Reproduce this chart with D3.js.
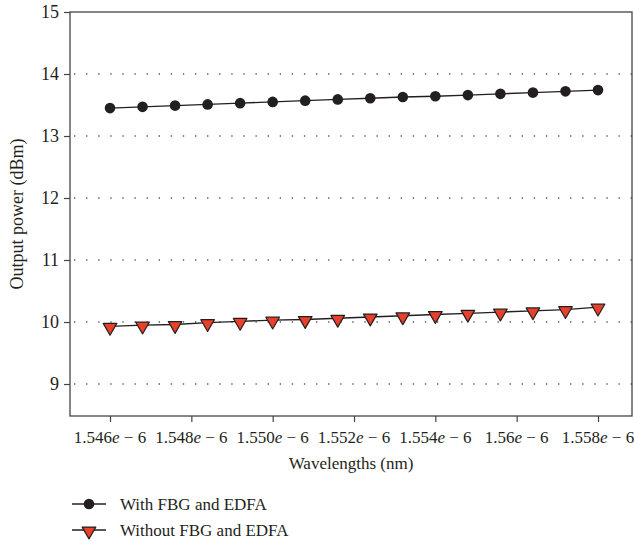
<!DOCTYPE html>
<html>
<head>
<meta charset="utf-8">
<script src="https://cdn.jsdelivr.net/npm/d3@7"></script>
<style>
  body { margin: 0; background: #fff; }
  svg { display: block; font-family: "Liberation Serif", "DejaVu Serif", serif; }
</style>
</head>
<body>
<svg id="chart"></svg>
<script>
const width = 634;
const height = 541;

// wavelengths (x 1e-6)
const wavelengths = [1.5460, 1.5468, 1.5476, 1.5484, 1.5492, 1.5500, 1.5508, 1.5516,
  1.5524, 1.5532, 1.5540, 1.5548, 1.5556, 1.5564, 1.5572, 1.5580];
const withFbg = [13.45, 13.47, 13.49, 13.51, 13.53, 13.55, 13.57, 13.59,
  13.61, 13.63, 13.64, 13.66, 13.68, 13.70, 13.72, 13.74];
const withoutFbg = [9.93, 9.95, 9.96, 9.99, 10.01, 10.03, 10.04, 10.06,
  10.08, 10.10, 10.12, 10.14, 10.16, 10.18, 10.20, 10.24];

const xTicks = [1.546, 1.548, 1.550, 1.552, 1.554, 1.556, 1.558];
const xTickLabels = ["1.546", "1.548", "1.550", "1.552", "1.554", "1.56", "1.558"];
const yTicks = [9, 10, 11, 12, 13, 14, 15];
const seriesNames = ["With FBG and EDFA", "Without FBG and EDFA"];

const margin = { top: 12, right: 2, bottom: 125, left: 70 };
const plotW = width - margin.left - margin.right;
const plotH = height - margin.top - margin.bottom;

const svg = d3.select("#chart").attr("width", width).attr("height", height);

const x = d3.scaleLinear().domain([1.545016, 1.558836]).range([margin.left, margin.left + plotW]);
const y = d3.scaleLinear().domain([8.484, 15]).range([margin.top + plotH, margin.top]);

const ink = "#231f20";
const red = "#e8402a";
const fs = "17px";

// dotted grid
svg.append("g")
  .selectAll("line")
  .data(yTicks.filter((d) => d < 15))
  .enter()
  .append("line")
  .attr("x1", margin.left + 4)
  .attr("x2", margin.left + plotW)
  .attr("y1", (d) => y(d))
  .attr("y2", (d) => y(d))
  .attr("stroke", "#555")
  .attr("stroke-width", 1.3)
  .attr("stroke-dasharray", "1.3,10.8");

// frame
svg.append("rect")
  .attr("x", margin.left)
  .attr("y", margin.top)
  .attr("width", plotW)
  .attr("height", plotH)
  .attr("fill", "none")
  .attr("stroke", "#444")
  .attr("stroke-width", 1.3);

// y axis
const yAxis = svg.append("g")
  .attr("transform", `translate(${margin.left},0)`)
  .call(d3.axisLeft(y).tickValues(yTicks).tickSize(6).tickPadding(5).tickFormat(d3.format("d")));
yAxis.select(".domain").remove();
yAxis.selectAll(".tick line").attr("stroke", "#444").attr("stroke-width", 1.2);
yAxis.selectAll(".tick text")
  .attr("fill", ink)
  .style("font-size", "18px")
  .style("font-family", "Liberation Serif, serif");

// x axis
const xAxis = svg.append("g")
  .attr("transform", `translate(0,${margin.top + plotH})`)
  .call(d3.axisBottom(x).tickValues(xTicks).tickSize(6).tickFormat(() => ""));
xAxis.select(".domain").remove();
xAxis.selectAll(".tick line").attr("stroke", "#444").attr("stroke-width", 1.2);

const xLab = svg.append("g")
  .selectAll("text")
  .data(xTicks)
  .enter()
  .append("text")
  .attr("x", (d) => x(d))
  .attr("y", margin.top + plotH + 27)
  .attr("text-anchor", "middle")
  .attr("fill", ink)
  .style("font-size", fs);
xLab.append("tspan").text((d, i) => xTickLabels[i]);
xLab.append("tspan").attr("font-style", "italic").text("e");
xLab.append("tspan").text(" \u2212 6");

// axis titles
svg.append("text")
  .attr("x", margin.left + plotW / 2)
  .attr("y", margin.top + plotH + 53)
  .attr("text-anchor", "middle")
  .attr("fill", ink)
  .style("font-size", fs)
  .text("Wavelengths (nm)");

svg.append("text")
  .attr("transform", `translate(23,${margin.top + plotH / 2}) rotate(-90)`)
  .attr("text-anchor", "middle")
  .attr("fill", ink)
  .style("font-size", "18px")
  .text("Output power (dBm)");

// lines
const line = (vals) => d3.line().x((d, i) => x(wavelengths[i])).y((d) => y(d))(vals);

svg.append("path").attr("d", line(withFbg)).attr("fill", "none").attr("stroke", ink).attr("stroke-width", 1.4);
svg.append("path").attr("d", line(withoutFbg)).attr("fill", "none").attr("stroke", ink).attr("stroke-width", 1.4);

const tri = d3.symbol().type(d3.symbolTriangle).size(80);

svg.append("g")
  .selectAll("circle")
  .data(withFbg)
  .enter()
  .append("circle")
  .attr("cx", (d, i) => x(wavelengths[i]))
  .attr("cy", (d) => y(d))
  .attr("r", 5.3)
  .attr("fill", ink);

svg.append("g")
  .selectAll("path")
  .data(withoutFbg)
  .enter()
  .append("path")
  .attr("d", tri)
  .attr("transform", (d, i) => `translate(${x(wavelengths[i])},${y(d) + 1}) rotate(180)`)
  .attr("fill", red)
  .attr("stroke", ink)
  .attr("stroke-width", 1.2)
  .attr("stroke-linejoin", "round");

// legend
const legend = svg.append("g")
  .selectAll("g")
  .data(seriesNames)
  .enter()
  .append("g")
  .attr("transform", (d, i) => `translate(72,${504 + i * 26})`);

legend.append("line")
  .attr("x1", 0).attr("x2", 34)
  .attr("stroke", ink).attr("stroke-width", 1.4);

legend.filter((d, i) => i === 0)
  .append("circle").attr("cx", 17).attr("r", 5.3).attr("fill", ink);

legend.filter((d, i) => i === 1)
  .append("path")
  .attr("d", tri)
  .attr("transform", "translate(17,1) rotate(180)")
  .attr("fill", red)
  .attr("stroke", ink)
  .attr("stroke-width", 1.2)
  .attr("stroke-linejoin", "round");

legend.append("text")
  .attr("x", 48)
  .attr("y", 6)
  .attr("fill", ink)
  .style("font-size", fs)
  .text((d) => d);
</script>
</body>
</html>
